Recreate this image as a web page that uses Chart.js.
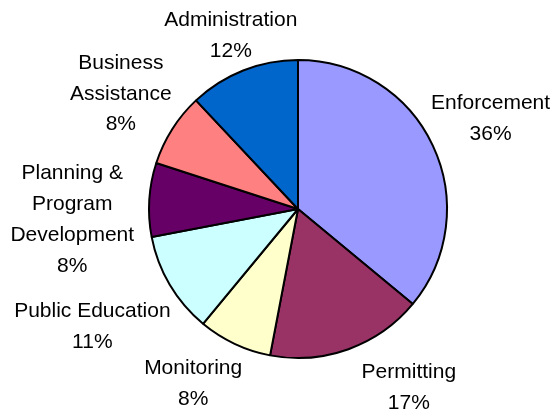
<!DOCTYPE html>
<html>
<head>
<meta charset="utf-8">
<script src="https://cdn.jsdelivr.net/npm/chart.js@4"></script>
<style>
  html, body { margin: 0; padding: 0; background: #fff; }
  canvas { display: block; }
</style>
</head>
<body>
<canvas id="budgetPie" width="557" height="413"></canvas>
<script>
const categories = [
  'Enforcement',
  'Permitting',
  'Monitoring',
  ['Public Education'],
  ['Planning &', 'Program', 'Development'],
  ['Business', 'Assistance'],
  'Administration'
];
const shares = [36, 17, 8, 11, 8, 8, 12];
const sliceColors = ['#9999FF', '#993366', '#FFFFCC', '#CCFFFF', '#660066', '#FF8080', '#0066CC'];

// where each label block sits, relative to the pie centre, in radius units
const labelSpots = [
  [1.284, -0.615],
  [0.739, 1.181],
  [-0.699, 1.154],
  [-1.371, 0.773],
  [-1.505, 0.060],
  [-1.181, -0.779],
  [-0.448, -1.167]
];

const outsideLabels = {
  id: 'outsideLabels',
  afterDatasetsDraw(chart) {
    const ctx = chart.ctx;
    const meta = chart.getDatasetMeta(0);
    const lineH = 30.7;
    ctx.save();
    ctx.font = '21px "Liberation Sans", Arial, sans-serif';
    ctx.fillStyle = '#000';
    ctx.textAlign = 'center';
    ctx.textBaseline = 'alphabetic';
    meta.data.forEach((arc, i) => {
      const name = categories[i];
      const lines = (Array.isArray(name) ? name.slice() : [name]);
      lines.push(shares[i] + '%');
      const r = arc.outerRadius + 1;
      const cx = arc.x + labelSpots[i][0] * r;
      const cy = arc.y + labelSpots[i][1] * r;
      const first = cy - (lines.length - 1) * lineH / 2 + 7.5;
      lines.forEach((t, j) => ctx.fillText(t, cx, first + j * lineH));
    });
    ctx.restore();
  }
};

const pieCtx = document.getElementById('budgetPie').getContext('2d');
const pieChart = new Chart(pieCtx, {
  type: 'pie',
  data: {
    labels: categories,
    datasets: [{
      data: shares,
      backgroundColor: sliceColors,
      borderColor: '#000',
      borderWidth: 2
    }]
  },
  options: {
    responsive: false,
    animation: false,
    devicePixelRatio: 1,
    layout: { padding: { left: 148, right: 109, top: 59, bottom: 54 } },
    plugins: {
      legend: { display: false },
      tooltip: { enabled: false }
    }
  },
  plugins: [outsideLabels]
});
</script>
</body>
</html>
